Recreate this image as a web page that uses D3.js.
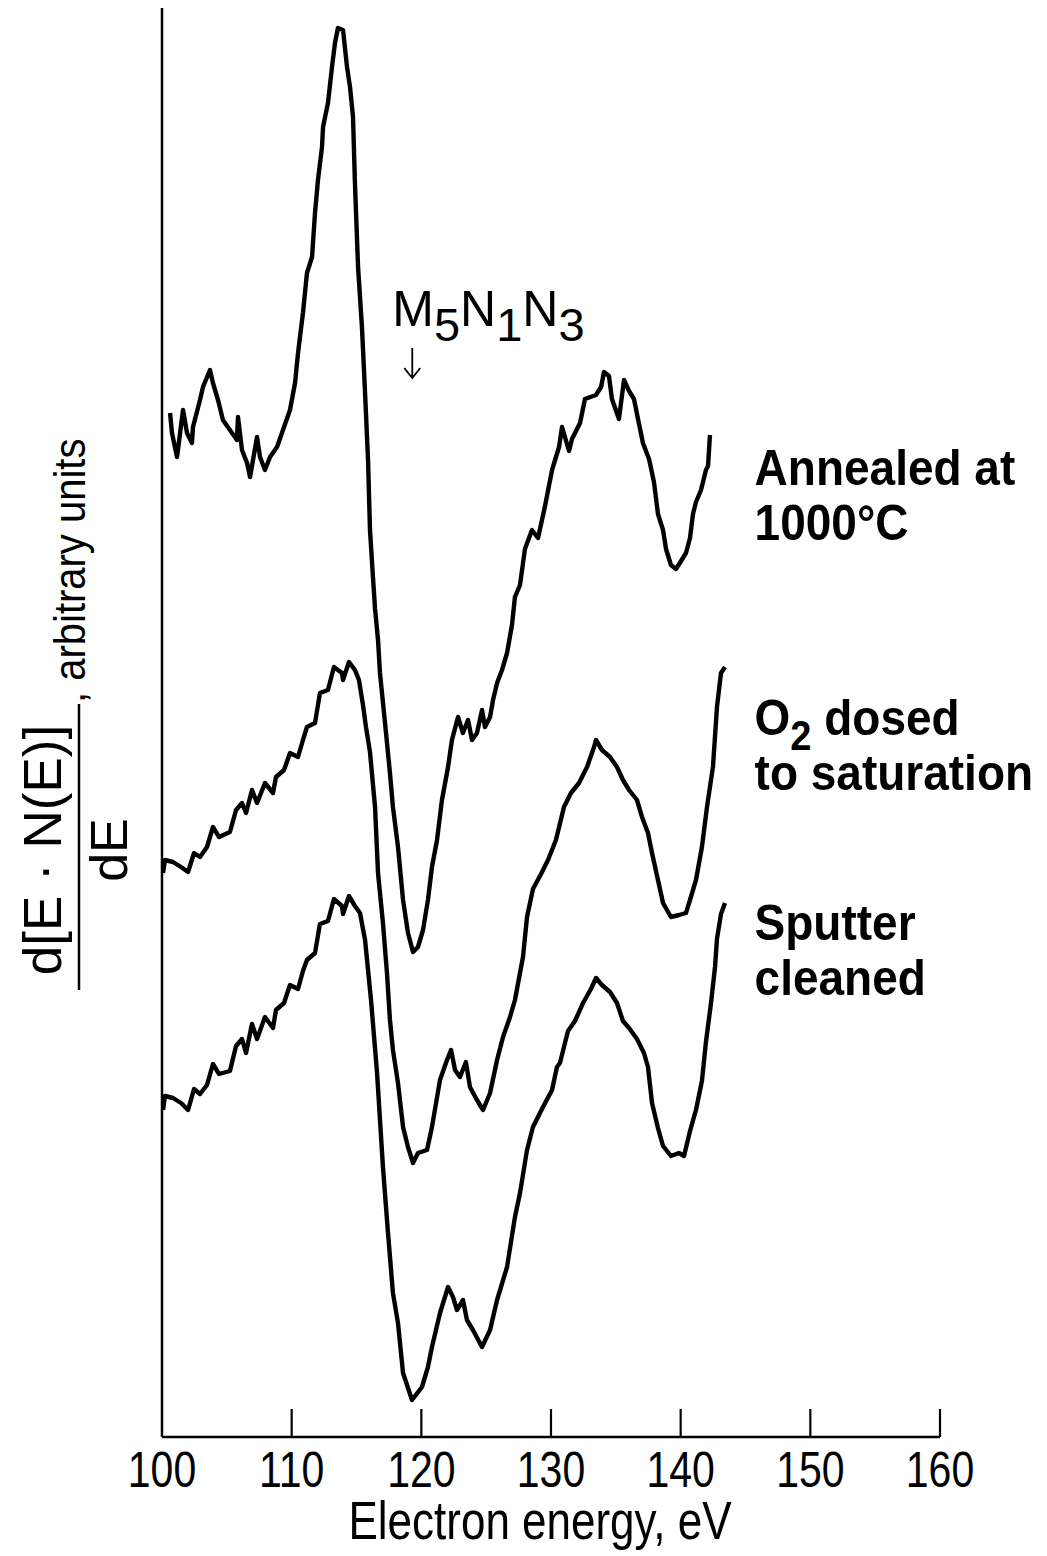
<!doctype html>
<html>
<head>
<meta charset="UTF-8">
<title>Auger spectra</title>
<script src="https://d3js.org/d3.v7.min.js"></script>
<style>
  body { margin: 0; background: #fff; }
  svg { display: block; }
  text { font-family: "Liberation Sans", Arial, Helvetica, sans-serif; fill: #000; }
</style>
</head>
<body>
<svg id="chart" width="1047" height="1556"></svg>
<script>
// ---- data (energy in eV, signal in arbitrary units) ----
var annealed = [
  [100.62,102.4],[100.77,100.4],[101.16,98.0],[101.62,102.7],[101.93,100.4],[102.31,99.4],[102.39,101.0],
  [102.93,103.7],[103.16,105.0],[103.70,106.7],[103.93,105.4],[104.32,103.7],[104.70,101.7],[105.24,100.7],
  [105.78,99.7],[105.86,102.0],[106.17,98.7],[106.56,97.4],[106.79,96.0],[107.33,100.0],[107.56,98.0],
  [107.94,96.7],[108.33,98.0],[108.87,99.0],[109.33,100.7],[109.87,102.7],[110.26,105.4],[110.49,108.4],
  [110.87,112.4],[111.18,116.4],[111.57,118.0],[111.80,122.4],[112.03,125.7],[112.34,129.0],[112.42,131.0],
  [112.80,133.4],[113.11,137.0],[113.34,139.4],[113.57,140.9],[113.96,140.7],[114.27,137.0],[114.50,135.0],
  [114.73,132.0],[114.88,125.4],[115.12,117.0],[115.42,111.0],[115.66,104.4],[115.89,97.7],[116.04,90.7],
  [116.27,86.0],[116.43,82.8],[116.66,79.7],[116.81,76.4],[117.20,71.4],[117.58,66.4],[117.81,63.0],
  [118.20,59.0],[118.59,53.7],[118.97,50.4],[119.36,48.5],[119.74,49.0],[120.13,50.7],[120.51,53.7],
  [120.82,57.0],[121.21,59.7],[121.59,63.7],[122.06,67.0],[122.36,69.7],[122.83,72.0],[123.21,70.4],
  [123.60,71.7],[123.91,69.7],[124.29,70.4],[124.68,72.7],[124.91,71.0],[125.30,72.0],[125.53,73.7],
  [125.84,75.4],[126.22,76.7],[126.61,78.4],[126.99,81.2],[127.22,84.0],[127.61,85.2],[127.99,88.8],
  [128.53,90.7],[129.00,89.9],[129.54,93.1],[130.08,96.7],[130.62,99.0],[130.85,101.0],[131.39,98.6],
  [131.62,99.8],[132.24,101.4],[132.62,103.8],[133.47,104.2],[133.86,105.0],[134.09,106.5],[134.47,106.1],
  [134.70,103.8],[135.24,101.8],[135.63,105.7],[136.02,104.6],[136.40,103.8],[136.71,101.8],[137.09,99.4],
  [137.56,97.8],[137.94,95.5],[138.25,92.3],[138.64,90.7],[138.87,88.8],[139.25,87.2],[139.64,86.8],
  [140.03,87.6],[140.41,88.4],[140.72,89.9],[140.95,92.3],[141.18,93.5],[141.57,94.7],[141.95,96.7],
  [142.11,97.1],[142.26,100.2]
];

var o2dosed = [
  [100.08,56.4],[100.23,57.7],[100.85,57.5],[101.47,57.0],[102.01,56.5],[102.47,58.4],[102.93,58.0],
  [103.47,59.0],[103.93,61.0],[104.40,60.0],[105.24,60.5],[105.71,62.7],[106.17,63.4],[106.48,62.4],
  [106.94,64.7],[107.33,63.4],[107.94,65.4],[108.56,64.4],[108.79,66.0],[109.41,66.7],[109.87,68.4],
  [110.49,68.0],[110.87,69.7],[111.18,71.0],[111.80,71.4],[112.18,74.4],[112.80,74.7],[113.26,77.0],
  [113.88,76.4],[113.96,75.7],[114.42,77.5],[114.88,76.7],[115.19,75.7],[115.50,73.2],[115.73,71.0],
  [116.04,68.5],[116.43,63.0],[116.66,56.4],[117.04,51.4],[117.35,46.4],[117.58,41.7],[117.81,38.7],
  [118.20,35.4],[118.59,31.0],[118.97,29.0],[119.36,27.4],[119.74,28.4],[120.44,28.7],[120.82,31.0],
  [121.44,35.7],[121.98,37.7],[122.29,38.7],[122.60,36.7],[122.98,36.0],[123.44,37.5],[123.75,35.0],
  [124.29,33.7],[124.76,32.7],[125.30,34.4],[125.84,37.7],[126.30,40.0],[126.84,42.0],[127.22,43.7],
  [127.84,48.0],[128.15,52.0],[128.61,54.8],[129.23,56.3],[129.77,57.7],[130.38,59.7],[131.00,63.0],
  [131.54,64.4],[132.16,65.4],[132.78,67.0],[133.32,69.0],[133.47,69.7],[133.93,68.7],[134.55,68.0],
  [135.09,67.0],[135.55,65.7],[136.02,64.7],[136.63,63.7],[137.02,62.0],[137.48,60.4],[137.79,58.4],
  [138.25,55.7],[138.64,53.4],[139.25,52.0],[139.87,52.2],[140.41,52.4],[140.72,53.7],[141.18,55.7],
  [141.64,59.0],[142.03,63.0],[142.49,67.0],[142.80,73.0],[143.11,76.4],[143.42,77.0]
];

var sputtered = [
  [100.08,32.7],[100.23,34.1],[100.85,33.9],[101.47,33.4],[102.01,32.7],[102.47,34.8],[102.93,34.3],
  [103.47,35.2],[103.93,37.3],[104.40,36.3],[105.24,36.6],[105.71,39.1],[106.17,39.8],[106.48,38.4],
  [106.94,41.3],[107.33,39.8],[107.94,42.0],[108.56,40.9],[108.79,42.7],[109.41,43.4],[109.87,45.2],
  [110.49,44.8],[110.87,46.6],[111.18,47.7],[111.80,48.4],[112.18,51.3],[112.80,51.6],[113.26,53.8],
  [113.88,53.1],[113.96,52.3],[114.42,54.1],[114.88,53.1],[115.27,52.4],[115.66,49.7],[116.12,43.7],
  [116.58,36.5],[117.04,27.0],[117.43,20.4],[117.81,14.4],[118.20,11.4],[118.59,6.4],[119.28,3.7],
  [120.05,5.0],[120.51,7.0],[120.82,9.0],[121.44,12.4],[122.06,15.0],[122.44,14.0],[122.75,12.7],
  [123.21,13.7],[123.52,11.7],[123.98,10.7],[124.68,9.0],[125.30,10.7],[125.84,13.7],[126.61,17.0],
  [127.22,22.0],[127.61,24.4],[128.15,28.7],[128.61,31.0],[129.38,33.0],[130.08,34.7],[130.46,37.0],
  [130.69,37.4],[131.31,40.6],[131.85,41.6],[132.47,43.4],[133.08,44.8],[133.47,45.9],[133.93,45.2],
  [134.55,44.5],[135.09,43.4],[135.55,41.6],[136.02,40.9],[136.63,39.8],[137.17,38.4],[137.48,37.0],
  [137.79,33.4],[138.25,30.9],[138.64,29.1],[139.25,28.1],[139.87,28.4],[140.26,28.1],[140.72,30.6],
  [141.18,32.7],[141.64,35.6],[141.95,39.5],[142.34,43.4],[142.65,47.0],[142.80,49.8],[143.11,52.3],
  [143.42,53.4]
];

var xTicks = [100, 110, 120, 130, 140, 150, 160];
var seriesLabels = [
  {lines: [["Annealed at"], ["1000°C"]], at: 95.2},
  {lines: [["O", "2", " dosed"], ["to saturation"]], at: 70.2},
  {lines: [["Sputter"], ["cleaned"]], at: 49.7}
];
var peakLabel = ["M", "5", "N", "1", "N", "3"];
var peakEnergy = 119.3;

// ---- layout ----
var svg = d3.select("#chart");
var plotL = 162, plotR = 940, plotT = 8, plotB = 1437;
var stretch = 1.2;   // the axis lettering is taller than it is wide

var x = d3.scaleLinear().domain([100, 160]).range([plotL, plotR]);
var y = d3.scaleLinear().domain([0, 142.9]).range([plotB, plotT]);

var line = d3.line()
  .x(function(d){ return x(d[0]); })
  .y(function(d){ return y(d[1]); });

// axes
svg.append("line")
  .attr("x1", plotL).attr("y1", plotT).attr("x2", plotL).attr("y2", plotB)
  .attr("stroke", "#000").attr("stroke-width", 2.5);
svg.append("line")
  .attr("x1", plotL).attr("y1", plotB).attr("x2", plotR).attr("y2", plotB)
  .attr("stroke", "#000").attr("stroke-width", 2.5);

svg.selectAll(".tick").data(xTicks.slice(1)).enter()
  .append("line")
  .attr("class", "tick")
  .attr("x1", function(d){ return x(d); }).attr("x2", function(d){ return x(d); })
  .attr("y1", plotB).attr("y2", plotB - 28)
  .attr("stroke", "#000").attr("stroke-width", 2.2);

svg.selectAll(".tlab").data(xTicks).enter()
  .append("g")
  .attr("transform", function(d){ return "translate(" + x(d) + "," + 1487 + ") scale(1," + stretch + ")"; })
  .append("text")
  .attr("text-anchor", "middle")
  .attr("font-size", 41)
  .text(function(d){ return d; });

svg.append("g")
  .attr("transform", "translate(540,1539) scale(1," + stretch + ")")
  .append("text")
  .attr("text-anchor", "middle")
  .attr("font-size", 44)
  .text("Electron energy, eV");

// y label: d[E·N(E)]/dE , arbitrary units (rotated)
var ylab = svg.append("g");
ylab.append("text")
  .attr("transform", "translate(61,850) rotate(-90)")
  .attr("text-anchor", "middle").attr("font-size", 53)
  .text("d[E · N(E)]");
ylab.append("line")
  .attr("x1", 79).attr("x2", 79).attr("y1", 704).attr("y2", 990)
  .attr("stroke", "#000").attr("stroke-width", 2.5);
ylab.append("text")
  .attr("transform", "translate(127,850) rotate(-90)")
  .attr("text-anchor", "middle").attr("font-size", 52)
  .text("dE");
ylab.append("g")
  .attr("transform", "translate(85,703) rotate(-90) scale(1,1.1)")
  .append("text")
  .attr("text-anchor", "start").attr("font-size", 40)
  .text(", arbitrary units");

// spectra
[annealed, o2dosed, sputtered].forEach(function(s){
  svg.append("path")
    .datum(s)
    .attr("d", line)
    .attr("fill", "none")
    .attr("stroke", "#000")
    .attr("stroke-width", 4.4)
    .attr("stroke-linejoin", "round");
});

// series labels
var labX = x(145.7);
seriesLabels.forEach(function(lab){
  lab.lines.forEach(function(parts, i){
    var t = svg.append("g")
      .attr("transform", "translate(" + labX + "," + (y(lab.at) + i * 55) + ") scale(1,1.1)")
      .append("text")
      .attr("font-size", 46)
      .attr("font-weight", "bold");
    parts.forEach(function(p, j){
      var sub = (parts.length > 1 && j === 1);
      t.append("tspan")
        .attr("font-size", sub ? 38 : 46)
        .attr("dy", sub ? 14 : (j > 1 ? -14 : 0))
        .text(p);
    });
  });
});

// M5N1N3 annotation
var ax = x(peakEnergy);
var ann = svg.append("text")
  .attr("x", ax - 20).attr("y", 326)
  .attr("font-size", 50);
peakLabel.forEach(function(p, i){
  var sub = i % 2 === 1;
  ann.append("tspan")
    .attr("font-size", sub ? 47 : 50)
    .attr("dy", i === 0 ? 0 : (sub ? 15 : -15))
    .text(p);
});
svg.append("path")
  .attr("d", "M" + ax + ",348 L" + ax + ",378 M" + (ax - 8) + ",368 L" + ax + ",378 L" + (ax + 8) + ",368")
  .attr("fill", "none").attr("stroke", "#000").attr("stroke-width", 1.8);
</script>
</body>
</html>
